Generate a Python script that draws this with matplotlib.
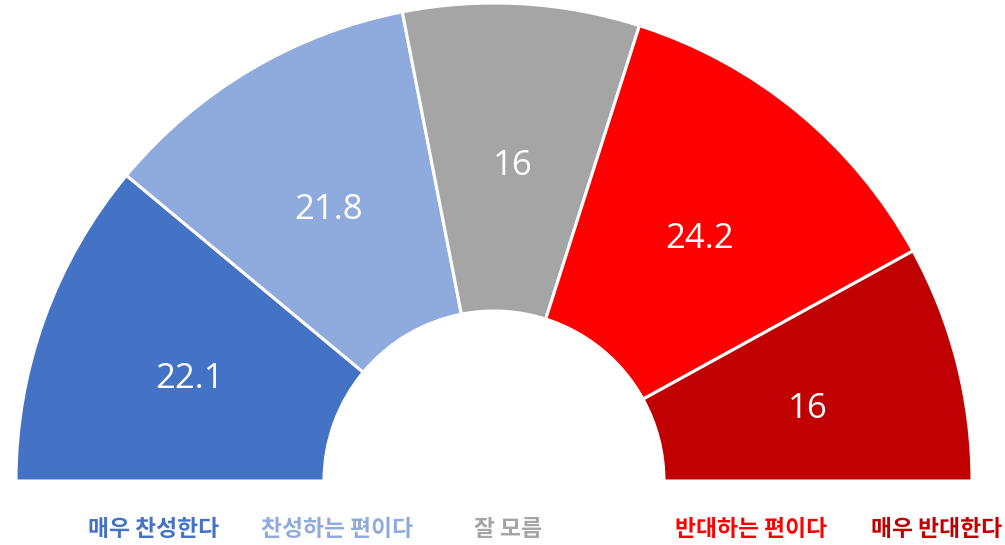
import matplotlib
matplotlib.use("Agg")
import matplotlib.pyplot as plt
import numpy as np

categories = ["매우 찬성한다", "찬성하는 편이다", "잘 모름", "반대하는 편이다", "매우 반대한다"]
values = [22.1, 21.8, 16, 24.2, 16]
value_labels = ["22.1", "21.8", "16", "24.2", "16"]
colors = ["#4472C4", "#8FAADC", "#A5A5A5", "#FF0000", "#C00000"]

W, H = 1005, 545
fig = plt.figure(figsize=(W / 100, H / 100), dpi=100)
ax = fig.add_axes([0, 0, 1, 1])

cx_px, cy_px, r_px = 494, 481, 478
inner = 170 / 478

total = sum(values)
wedges, _ = ax.pie(values + [total], colors=colors + ["none"], startangle=180,
                   counterclock=False, radius=1,
                   wedgeprops=dict(width=1 - inner, edgecolor="white", linewidth=2.2))
wedges[-1].set_visible(False)

rl = (1 + inner) / 2
dy = -8 / r_px
for w, lab in zip(wedges[:-1], value_labels):
    th = np.deg2rad((w.theta1 + w.theta2) / 2)
    ax.text(rl * np.cos(th), rl * np.sin(th) + dy, lab, ha="center", va="center",
            color="white", fontsize=25, family=["Open Sans", "DejaVu Sans"])

ax.set_aspect("auto")
ax.set_xlim(-cx_px / r_px, (W - cx_px) / r_px)
ax.set_ylim(-(H - cy_px) / r_px, cy_px / r_px)
ax.axis("off")

legend_x = [88, 261, 474, 675, 871]
for x, cat, c in zip(legend_x, categories, colors):
    fig.text(x / W, 1 - 529 / H, cat, ha="left", va="center", color=c,
             fontsize=16.4, fontweight="bold",
             family=["Noto Sans CJK KR", "DejaVu Sans"])

fig.savefig("out.png", dpi=100)
